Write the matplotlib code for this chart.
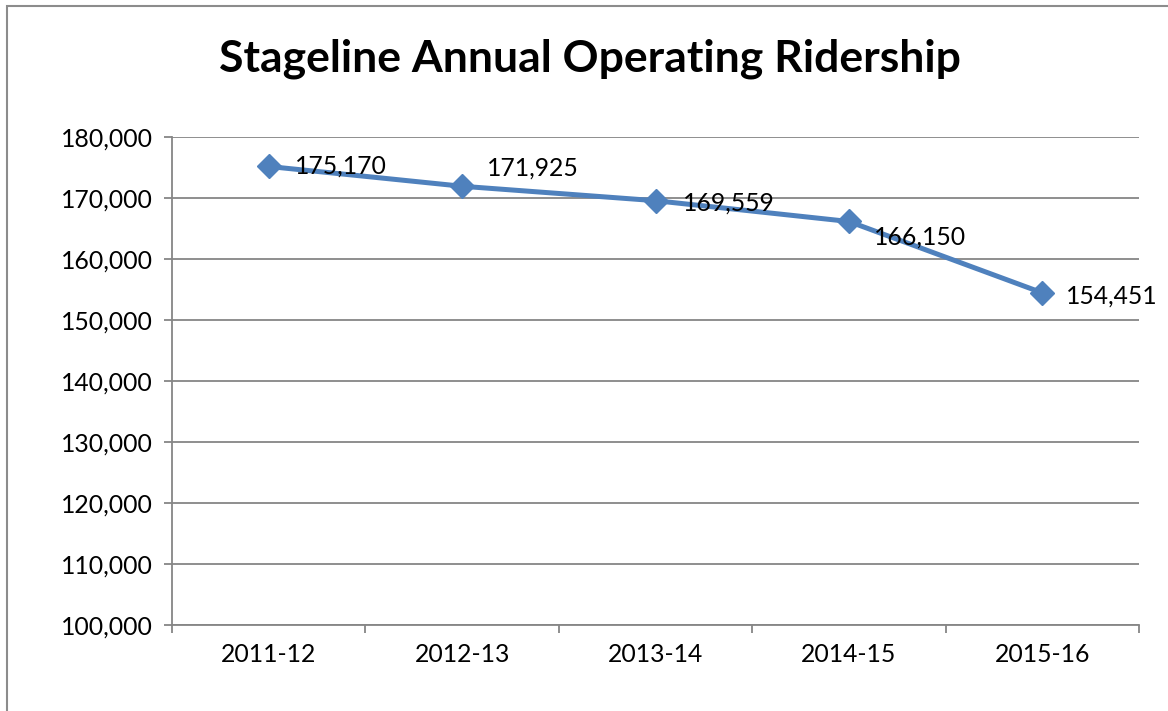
import matplotlib.pyplot as plt
from matplotlib.patches import Rectangle
from matplotlib.ticker import FuncFormatter

plt.rcParams['font.family'] = ['Lato', 'DejaVu Sans']

# data
years = ['2011-12', '2012-13', '2013-14', '2014-15', '2015-16']
riders = [175170, 171925, 169559, 166150, 154451]

# label offsets in points (dx, dy)
offsets = [(19, 0), (18, 13), (20, -2), (18, -11), (17, -2)]

fig = plt.figure(figsize=(11.68, 7.11), dpi=100)
ax = fig.add_axes([0.1473, 0.1210, 0.9752 - 0.1473, 0.8073 - 0.1210])

grid_col = '#868686'
fs = 17.8
x = list(range(len(years)))
ax.plot(x, riders, color='#4F81BD', lw=3.6, marker='D', markersize=12,
        zorder=3)

for i, v in enumerate(riders):
    ax.annotate(f'{v:,}', (x[i], v), xytext=offsets[i], textcoords='offset points',
                ha='left', va='center', fontsize=fs, color='black', zorder=4)

ax.set_xlim(-0.5, len(years) - 0.5)
ax.set_ylim(100000, 180000)
ax.set_yticks(range(100000, 180001, 10000))
ax.yaxis.set_major_formatter(FuncFormatter(lambda v, p: f'{int(v):,}'))
ax.set_xticks(x)
ax.set_xticklabels(years)
ax.set_xticks([i - 0.5 for i in range(len(years) + 1)], minor=True)

ax.grid(axis='y', color=grid_col, lw=1.3)
ax.set_axisbelow(True)
for s in ['top', 'right']:
    ax.spines[s].set_visible(False)
for s in ['left', 'bottom']:
    ax.spines[s].set_color(grid_col)
    ax.spines[s].set_linewidth(1.3)

ax.tick_params(axis='y', length=6, width=1.3, color=grid_col, labelsize=fs, pad=8)
ax.tick_params(axis='x', which='major', length=0, labelsize=fs, pad=13)
ax.tick_params(axis='x', which='minor', length=6, width=1.3, color=grid_col)

fig.text(0.505, 0.918, 'Stageline Annual Operating Ridership', ha='center', va='center',
         fontsize=32, fontweight='bold')

# chart border
fig.patches.append(Rectangle((7 / 1168, -0.1), 1.2, 1.1 - 6 / 711, transform=fig.transFigure,
                             fill=False, edgecolor='#8C8C8C', lw=1.5))

fig.savefig('out.png', dpi=100)
